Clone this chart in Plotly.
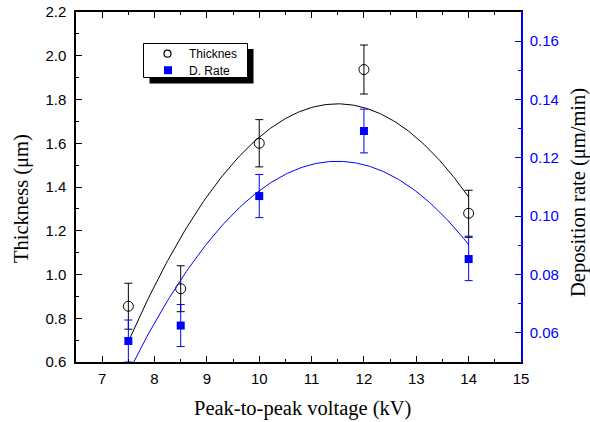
import numpy as np
import plotly.graph_objects as go

voltage = [7.5, 8.5, 10, 12, 14]
thickness = [0.855, 0.935, 1.60, 1.937, 1.28]
thickness_err = [0.105, 0.105, 0.108, 0.112, 0.105]
rate = [0.0572, 0.0625, 0.1069, 0.1292, 0.0853]
rate_err = [0.0072, 0.0072, 0.0074, 0.0075, 0.0074]

x_ticks = [7, 8, 9, 10, 11, 12, 13, 14, 15]
y_ticks = [0.6, 0.8, 1.0, 1.2, 1.4, 1.6, 1.8, 2.0, 2.2]
y2_ticks = [0.06, 0.08, 0.10, 0.12, 0.14, 0.16]
legend_names = ["Thicknes", "D. Rate"]
x_title = "Peak-to-peak voltage (kV)"
y_title = "Thickness (μm)"
y2_title = "Deposition rate (μm/min)"

# quadratic fits (as in original)
xf = np.linspace(min(voltage), max(voltage), 200)
pt = np.polyfit(voltage, thickness, 2)
pr = np.polyfit(voltage, rate, 2)

BLUE = "#0000ff"
fig = go.Figure()
fig.add_trace(go.Scatter(x=xf, y=np.polyval(pt, xf), mode="lines",
                         line=dict(color="black", width=1), showlegend=False, hoverinfo="skip"))
fig.add_trace(go.Scatter(x=xf, y=np.polyval(pr, xf), mode="lines", yaxis="y2",
                         line=dict(color=BLUE, width=1), showlegend=False, hoverinfo="skip"))
fig.add_trace(go.Scatter(x=voltage, y=thickness, mode="markers", name=legend_names[0], showlegend=False,
                         marker=dict(symbol="circle-open", size=10, color="black", line=dict(width=1)),
                         error_y=dict(type="data", array=thickness_err, color="black", thickness=1, width=4)))
fig.add_trace(go.Scatter(x=voltage, y=rate, mode="markers", name=legend_names[1], yaxis="y2", showlegend=False,
                         marker=dict(symbol="square", size=8, color=BLUE),
                         error_y=dict(type="data", array=rate_err, color=BLUE, thickness=1, width=4)))

tickfont = dict(family="Liberation Sans", size=15, color="black")
titlefont = dict(family="Liberation Serif", size=20.5, color="black")

# plot area in pixels (for legend / title placement in paper coordinates)
L, R, T, B = 76, 521, 12, 362
W, H = R - L, B - T
def px(x):
    return (x - L) / W
def py(y):
    return (B - y) / H

shapes = [
    # legend shadow
    dict(type="rect", xref="paper", yref="paper", x0=px(149.5), x1=px(253.5), y0=py(83.5), y1=py(49),
         fillcolor="black", line=dict(width=0), layer="above"),
    # legend box
    dict(type="rect", xref="paper", yref="paper", x0=px(143.5), x1=px(247.5), y0=py(77.5), y1=py(43.5),
         fillcolor="white", line=dict(color="black", width=1), layer="above"),
    # legend symbols
    dict(type="circle", xref="paper", yref="paper", x0=px(164), x1=px(171), y0=py(57.2), y1=py(50.2),
         fillcolor="white", line=dict(color="black", width=1.2), layer="above"),
    dict(type="rect", xref="paper", yref="paper", x0=px(164), x1=px(172), y0=py(74.2), y1=py(66.2),
         fillcolor=BLUE, line=dict(width=0), layer="above"),
]
annotations = [
    dict(xref="paper", yref="paper", x=px(187), y=py(54), xanchor="left", yanchor="middle",
         text=legend_names[0], showarrow=False,
         font=dict(family="Liberation Sans", size=12, color="black")),
    dict(xref="paper", yref="paper", x=px(187), y=py(70.5), xanchor="left", yanchor="middle",
         text=legend_names[1], showarrow=False,
         font=dict(family="Liberation Sans", size=12, color="black")),
    # axis titles
    dict(xref="paper", yref="paper", x=px(302), y=py(408), xanchor="center", yanchor="middle",
         text=x_title, showarrow=False, font=titlefont),
    dict(xref="paper", yref="paper", x=px(21), y=py(199), xanchor="center", yanchor="middle",
         text=y_title, showarrow=False, font=titlefont, textangle=-90),
    dict(xref="paper", yref="paper", x=px(578), y=py(193), xanchor="center", yanchor="middle",
         text=y2_title, showarrow=False, font=titlefont, textangle=-90),
]

fig.update_layout(
    width=590, height=422,
    margin=dict(l=L, r=590 - R, t=T, b=422 - B),
    plot_bgcolor="white", paper_bgcolor="white",
    showlegend=False,
    xaxis=dict(range=[6.5, 15], tickvals=x_ticks, ticktext=[str(v) for v in x_ticks],
               ticks="inside", ticklen=6, tickwidth=1, tickcolor="black",
               minor=dict(dtick=0.5, ticks="inside", ticklen=3, tickcolor="black"),
               showline=True, linecolor="black", linewidth=1.5, mirror="ticks",
               showgrid=False, zeroline=False, tickfont=tickfont, ticklabelstandoff=2,
               automargin=False),
    yaxis=dict(range=[0.6, 2.2], tickvals=y_ticks, ticktext=["%.1f" % v for v in y_ticks],
               ticks="inside", ticklen=6, tickwidth=1, tickcolor="black",
               minor=dict(dtick=0.1, ticks="inside", ticklen=3, tickcolor="black"),
               showline=True, linecolor="black", linewidth=1.5, mirror=False,
               showgrid=False, zeroline=False, tickfont=tickfont, ticklabelstandoff=5,
               automargin=False),
    yaxis2=dict(range=[0.05, 0.17], overlaying="y", side="right",
                tickvals=y2_ticks, ticktext=["%.2f" % v for v in y2_ticks],
                ticks="inside", ticklen=6, tickwidth=1, tickcolor=BLUE,
                minor=dict(dtick=0.01, ticks="inside", ticklen=3, tickcolor=BLUE),
                showline=True, linecolor=BLUE, linewidth=1.5,
                showgrid=False, zeroline=False, ticklabelstandoff=4, automargin=False,
                tickfont=dict(family="Liberation Sans", size=15, color=BLUE)),
    shapes=shapes,
    annotations=annotations,
)

fig.write_html("out.html")
